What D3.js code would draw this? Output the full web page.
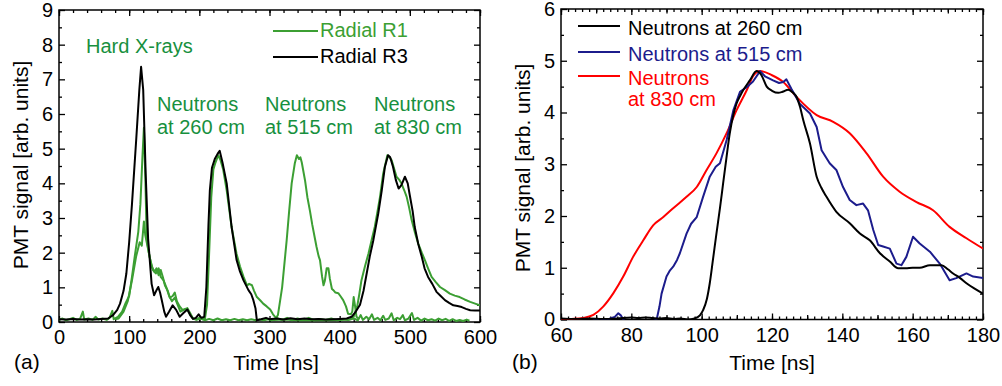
<!DOCTYPE html>
<html>
<head>
<meta charset="utf-8">
<script src="https://cdn.jsdelivr.net/npm/d3@7"></script>
<style>
  body { margin: 0; background: #fff; }
  svg text { font-family: "Liberation Sans", Arial, sans-serif; }
  .tick text { font-size: 20px; fill: #000; }
  .tick line { stroke: #000; stroke-width: 1.3; }
</style>
</head>
<body>
<div id="chart"></div>
<script>
// ---- panel (a): time [ns] vs PMT signal ----
var r3Black = [[0,0.08],[10,0.07],[20,0.09],[30,0.07],[40,0.08],[50,0.07],[60,0.09],[70,0.1],[77,0.2],[83,0.35],[87,0.53],[92,0.9],[96,1.4],[100,2.3],[104,3.4],[110,5.25],[114.5,6.7],[117,7.36],[120,6.7],[123.5,4.3],[127,2.4],[132,1.1],[135.5,0.77],[138.5,0.9],[141.5,1.01],[144,0.85],[146.5,0.63],[150,0.3],[152.5,0.15],[157,0.3],[162,0.48],[167,0.35],[172,0.15],[177,0.25],[183,0.36],[187,0.2],[191,0.09],[195,0.12],[199,0.22],[203,0.12],[207,0.15],[210,1.0],[213,2.8],[215,3.8],[218,4.45],[222,4.7],[226,4.85],[229,4.94],[233,4.6],[239,4.0],[246,2.74],[253,1.8],[258,1.45],[263,1.2],[270,0.92],[274,0.8],[277,0.63],[280,0.4],[282,0.05],[288,0.08],[295,0.12],[300,0.08],[310,0.1],[320,0.07],[330,0.11],[340,0.08],[350,0.1],[360,0.08],[370,0.09],[380,0.07],[390,0.08],[400,0.09],[410,0.1],[417,0.15],[423,0.3],[429,0.5],[434,0.9],[438.5,1.4],[443,1.9],[448,2.36],[455,3.13],[460,3.8],[464.5,4.48],[469,4.81],[472,4.75],[476,4.48],[480,4.1],[484,3.85],[488,3.95],[493,4.19],[497,4.0],[500,3.65],[504,3.2],[507,2.74],[512,2.25],[517,1.88],[521,1.55],[526,1.3],[532,1.1],[538,0.87],[544,0.75],[550,0.63],[556,0.55],[562,0.48],[568,0.46],[574,0.43],[580,0.38],[586,0.34],[593,0.33],[600,0.33]];

var r1Shot260 = [[0,0.06],[5,0.1],[10,0.05],[15,0.08],[20,0.12],[25,0.06],[30,0.09],[34,0.3],[36,0.07],[42,0.1],[48,0.06],[52,0.15],[56,0.07],[62,0.1],[68,0.06],[72,0.12],[76,0.32],[78,0.08],[84,0.15],[90,0.3],[95,0.55],[100,0.75],[104,1.3],[108,1.9],[113,2.6],[116,3.4],[119,4.8],[121,5.6],[123,4.2],[125,2.4],[128,2.0],[132,1.6],[136,1.45],[139,1.55],[142,1.35],[145,1.5],[148,1.3],[151,1.05],[155,0.9],[158,0.7],[162,0.75],[165,0.85],[168,0.6],[172,0.45],[176,0.35],[180,0.38],[183,0.35],[187,0.2],[191,0.1],[195,0.08],[200,0.12],[204,0.08],[208,0.1],[211,0.5],[214,2.0],[217,3.6],[220,4.4],[223,4.6],[227,4.81],[230,4.68],[234,4.4],[239,3.8],[246,2.74],[253,1.97],[258,1.6],[263,1.3],[268,1.05],[271,1.1],[275,1.06],[278,0.9],[282,0.72],[287,0.62],[291,0.53],[296,0.45],[301,0.36],[305,0.22],[308,0.15],[312,0.1],[318,0.06],[325,0.12],[332,0.05],[340,0.1],[348,0.06],[356,0.12],[364,0.05],[372,0.09],[380,0.06],[388,0.1],[396,0.05],[404,0.08],[412,0.06],[420,0.1],[426,0.05],[430,0.2],[433,0.06],[438,0.15],[442,0.08],[446,0.22],[449,0.06],[454,0.12],[458,0.05],[462,0.18],[465,0.06],[470,0.1],[474,0.25],[477,0.05],[482,0.12],[486,0.08],[490,0.2],[493,0.05],[498,0.1],[503,0.26],[506,0.06],[511,0.12],[516,0.04],[521,0.1],[526,0.05],[531,0.08],[536,0.04],[541,0.1],[546,0.05],[551,0.09],[556,0.03],[561,0.08],[566,0.03],[571,0.06],[576,0.03],[581,0.07],[585,0.04]];

var r1Shot515 = [[80,0.08],[85,0.1],[92,0.3],[98,0.6],[104,1.2],[110,1.9],[115,2.3],[118,2.2],[121,2.9],[123,2.5],[126,2.2],[130,1.8],[134,1.5],[138,1.4],[142,1.55],[145,1.3],[149,1.2],[153,1.0],[157,0.75],[161,0.6],[165,0.7],[169,0.5],[173,0.3],[178,0.35],[183,0.4],[187,0.25],[191,0.1],[196,0.06],[202,0.1],[208,0.05],[214,0.09],[220,0.05],[226,0.1],[232,0.05],[238,0.08],[244,0.05],[250,0.09],[256,0.05],[262,0.08],[268,0.05],[274,0.08],[280,0.05],[286,0.07],[292,0.05],[298,0.08],[304,0.06],[309,0.1],[312,0.2],[318,1.0],[324.5,2.36],[328,3.2],[331.6,4.0],[336,4.57],[339,4.81],[342,4.7],[344,4.75],[346,4.6],[350.6,4.09],[354,3.6],[357.7,3.2],[361,2.8],[364.8,2.4],[367,2.17],[370,1.9],[372,1.78],[375,1.3],[377,1.06],[379,1.2],[381.5,1.55],[384,1.55],[386,1.25],[389,0.95],[391,0.92],[394,0.85],[398,0.83],[401,0.75],[405,0.63],[409,0.45],[412,0.24],[416,0.22],[418,0.3],[420,0.72],[422,0.45],[424,0.15],[428,0.08]];

var r1Shot830 = [[300,0.05],[320,0.07],[340,0.05],[360,0.06],[380,0.05],[400,0.06],[415,0.08],[420,0.15],[425,0.45],[428,0.8],[431,1.2],[436,1.6],[441,1.97],[446,2.4],[450,2.74],[454,3.2],[457.5,3.61],[462,4.28],[468,4.81],[471,4.75],[474,4.67],[478,4.4],[481,4.19],[485,4.1],[488,4.0],[492,3.8],[495.5,3.61],[499,3.3],[502.6,2.94],[507,2.6],[512,2.26],[517,2.0],[521.6,1.78],[526,1.55],[531,1.3],[537,1.15],[543,1.01],[550,0.92],[557,0.82],[564,0.76],[571,0.72],[578,0.65],[586,0.58],[593,0.53],[600,0.48]];

var aXTicks = [0, 100, 200, 300, 400, 500, 600];
var aYTicks = [0, 1, 2, 3, 4, 5, 6, 7, 8, 9];

// ---- panel (b): zoom on neutron pulses ----
var n260 = [[60,0.02],[64,0.01],[68,0.02],[72,0.01],[76,0.02],[80,0.04],[82,0.03],[84,0.04],[86,0.03],[88,0.02],[90,0.03],[92,0.01],[94,0.02],[96,0.0],[98,0.02],[99.5,0.08],[100.4,0.18],[101.5,0.4],[102.3,0.7],[103.2,1.15],[104.2,1.66],[105.2,2.15],[106.1,2.63],[107,3.1],[108,3.6],[109,3.95],[109.9,4.17],[111,4.33],[111.8,4.43],[113.7,4.62],[115.6,4.8],[117,4.72],[118.5,4.5],[120,4.42],[121.8,4.38],[123,4.4],[124.6,4.44],[126,4.38],[127,4.3],[128,4.1],[128.9,3.85],[130.8,3.4],[132.7,2.76],[134,2.55],[135.5,2.37],[138.3,2.08],[142.1,1.86],[145,1.66],[147.8,1.53],[150.7,1.28],[153.5,1.12],[155.9,0.99],[158,0.99],[160,1.0],[162,1.0],[164.9,1.05],[168.2,1.05],[170,0.97],[171.5,0.89],[173.5,0.8],[175.3,0.7],[177.5,0.6],[180,0.5]];

var n515 = [[69,-0.02],[70,0.0],[71,-0.03],[72,0.01],[73,-0.02],[74,0.02],[75.3,0.05],[76.3,0.12],[77,0.08],[77.7,0.0],[78.5,-0.05],[80,-0.08],[82,-0.06],[84,-0.08],[86,-0.04],[87.2,0.0],[88,0.25],[88.6,0.5],[90,0.83],[91,0.95],[91.9,1.02],[93,1.15],[93.8,1.28],[95.7,1.66],[97,1.85],[98.6,1.98],[100.4,2.37],[102.3,2.76],[104,2.95],[105.2,3.02],[107.1,3.47],[109,4.04],[110.9,4.4],[112.8,4.49],[114.6,4.6],[116.6,4.8],[118,4.7],[120.3,4.62],[122,4.57],[123.2,4.59],[124.1,4.64],[125.5,4.46],[127.9,4.17],[130.8,3.98],[132.7,3.72],[134.1,3.27],[136.4,3.02],[138.3,2.89],[140.2,2.56],[142.1,2.31],[144,2.21],[145.9,2.24],[147.3,2.11],[148.8,1.73],[150.2,1.44],[151.6,1.41],[153.5,1.37],[155.4,1.08],[156.8,1.05],[158.2,1.21],[160.1,1.6],[162,1.47],[164.9,1.31],[167.7,1.08],[170.5,0.76],[172.4,0.8],[175.3,0.89],[177.2,0.83],[180,0.8]];

var n830 = [[60,0],[63,0.01],[66.3,0.03],[69.2,0.09],[72,0.25],[74.9,0.51],[77.7,0.83],[80.5,1.21],[83.4,1.53],[86.2,1.82],[89.1,1.98],[91.9,2.15],[95.7,2.37],[98.6,2.56],[101.4,2.89],[104.2,3.21],[107.1,3.6],[109.9,4.04],[112.8,4.43],[114.6,4.7],[116.6,4.8],[120,4.72],[123.2,4.59],[127,4.3],[132.7,3.95],[137.4,3.82],[142.1,3.6],[146.9,3.21],[151.6,2.76],[156.3,2.47],[161.1,2.27],[165.8,2.11],[170.5,1.79],[175.3,1.57],[180,1.37]];

var bXTicks = [60, 80, 100, 120, 140, 160, 180];
var bYTicks = [0, 1, 2, 3, 4, 5, 6];

var green = '#3c9f33', greenText = '#17903e', navy = '#1c1c8c', red = '#ff0000';

var svg = d3.select('#chart').append('svg')
    .attr('width', 1002).attr('height', 386)
    .style('background', '#fff');

function panel(box, xDom, yDom, xMaj, xMin, xMid, yMaj, yMin, id) {
    var x = d3.scaleLinear().domain(xDom).range([box.x0, box.x1]);
    var y = d3.scaleLinear().domain(yDom).range([box.y1, box.y0]);
    var g = svg.append('g');
    svg.append('clipPath').attr('id', id).append('rect')
        .attr('x', box.x0).attr('y', box.y0)
        .attr('width', box.x1 - box.x0).attr('height', box.y1 - box.y0);

    function ticks(axis, vals, size, tr, labels, pad) {
        var a = axis.tickValues(vals).tickSizeInner(-size).tickSizeOuter(0).tickPadding(pad || 0);
        a.tickFormat(labels ? d3.format('d') : '');
        var ga = g.append('g').attr('transform', tr).call(a);
        ga.attr('font-family', null).attr('font-size', null);
        ga.select('.domain').remove();
        return ga;
    }
    var bT = `translate(0,${box.y1})`, tT = `translate(0,${box.y0})`;
    var lT = `translate(${box.x0},0)`, rT = `translate(${box.x1},0)`;
    ticks(d3.axisBottom(x), xMaj, 6, bT, true, 8);
    ticks(d3.axisBottom(x), xMin, 3, bT);
    ticks(d3.axisTop(x), xMaj, 6, tT);
    ticks(d3.axisTop(x), xMin, 3, tT);
    if (xMid) {
        ticks(d3.axisBottom(x), xMid, 4.5, bT);
        ticks(d3.axisTop(x), xMid, 4.5, tT);
    }
    ticks(d3.axisLeft(y), yMaj, 6, lT, true, 6);
    ticks(d3.axisLeft(y), yMin, 3, lT);
    ticks(d3.axisRight(y), yMaj, 6, rT);
    ticks(d3.axisRight(y), yMin, 3, rT);

    g.append('rect').attr('x', box.x0).attr('y', box.y0)
        .attr('width', box.x1 - box.x0).attr('height', box.y1 - box.y0)
        .attr('fill', 'none').attr('stroke', '#000').attr('stroke-width', 1.5);

    return { x: x, y: y, g: g, clip: `url(#${id})` };
}

function drawLine(p, data, color, curve, w) {
    var line = d3.line().x(d => p.x(d[0])).y(d => p.y(d[1])).curve(curve || d3.curveLinear);
    p.g.append('path').datum(data)
        .attr('d', line).attr('fill', 'none')
        .attr('stroke', color).attr('stroke-width', w || 2)
        .attr('stroke-linejoin', 'round')
        .attr('clip-path', p.clip);
}

function text(x, y, s, color, size, anchor) {
    return svg.append('text').attr('x', x).attr('y', y).text(s)
        .attr('fill', color).style('font-size', (size || 20) + 'px')
        .attr('text-anchor', anchor || 'start');
}

// panel (a)
var pa = panel({ x0: 59, x1: 480, y0: 10, y1: 322 }, [0, 600], [0, 9],
    aXTicks, d3.range(0, 601, 20), null, aYTicks, d3.range(0.5, 9, 1), 'clipA');
drawLine(pa, r1Shot260, green);
drawLine(pa, r1Shot515, green);
drawLine(pa, r1Shot830, green);
drawLine(pa, r3Black, '#000');

// legend (a)
pa.g.append('line').attr('x1', 273).attr('x2', 318).attr('y1', 31).attr('y2', 31)
    .attr('stroke', green).attr('stroke-width', 2);
pa.g.append('line').attr('x1', 273).attr('x2', 318).attr('y1', 57).attr('y2', 57)
    .attr('stroke', '#000').attr('stroke-width', 2);
text(320, 37, 'Radial R1', green);
text(320, 63, 'Radial R3', '#000');

text(86, 53, 'Hard X-rays', greenText);
text(157, 111, 'Neutrons', greenText);
text(157, 134, 'at 260 cm', greenText);
text(265, 111, 'Neutrons', greenText);
text(265, 134, 'at 515 cm', greenText);
text(374, 111, 'Neutrons', greenText);
text(374, 134, 'at 830 cm', greenText);

text(276, 370, 'Time [ns]', '#000', 21, 'middle');
text(14, 369, '(a)', '#000', 21);
text(0, 0, 'PMT signal [arb. units]', '#000', 21, 'middle')
    .attr('transform', 'translate(28,165) rotate(-90)');

// panel (b)
var pb = panel({ x0: 561, x1: 983, y0: 9, y1: 319.5 }, [60, 180], [0, 6],
    bXTicks, d3.range(60, 181, 2), d3.range(70, 180, 20), bYTicks, d3.range(0.5, 6, 1), 'clipB');
drawLine(pb, n830, red, d3.curveMonotoneX);
drawLine(pb, n515, navy);
drawLine(pb, n260, '#000', d3.curveMonotoneX);

// legend (b)
[[26, '#000'], [52, navy], [76, red]].forEach(function (l) {
    pb.g.append('line').attr('x1', 578).attr('x2', 620).attr('y1', l[0]).attr('y2', l[0])
        .attr('stroke', l[1]).attr('stroke-width', 2);
});
text(628, 35, 'Neutrons at 260 cm', '#000');
text(628, 61, 'Neutrons at 515 cm', navy);
text(628, 85, 'Neutrons', red);
text(628, 106, 'at 830 cm', red);

text(772, 370, 'Time [ns]', '#000', 21, 'middle');
text(512, 369, '(b)', '#000', 21);
text(0, 0, 'PMT signal [arb. units]', '#000', 21, 'middle')
    .attr('transform', 'translate(530,168) rotate(-90)');
</script>
</body>
</html>
